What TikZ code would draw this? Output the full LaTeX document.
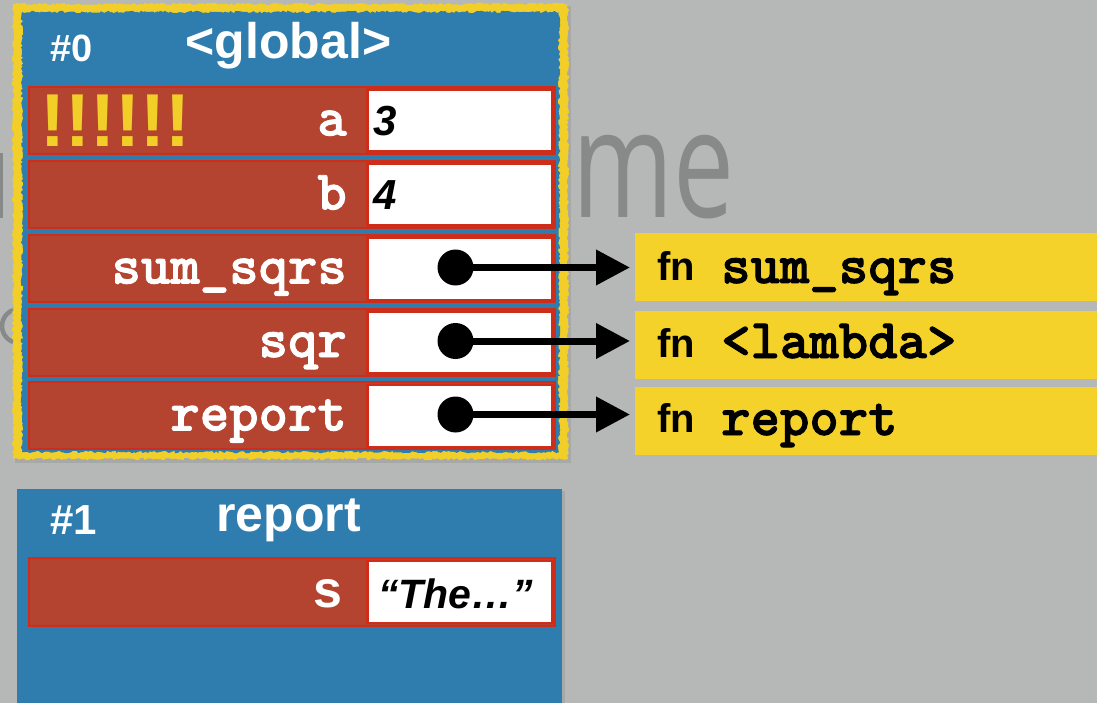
\documentclass[tikz,border=0pt]{standalone}
\usepackage{fontspec}
\setmainfont{Liberation Sans}
\newfontfamily\titlefont{Open Sans}
\newfontfamily\codefont[FakeBold=1.6]{lmmonolt10-bold.otf}
\usetikzlibrary{arrows.meta,decorations.pathmorphing}

\definecolor{slidebg}{RGB}{181,184,182}
\definecolor{titlegray}{RGB}{135,138,137}
\definecolor{frameblue}{RGB}{46,125,174}
\definecolor{frameyellow}{RGB}{242,206,40}
\definecolor{rowred}{RGB}{180,68,48}
\definecolor{rowline}{RGB}{205,45,25}
\definecolor{fnyellow}{RGB}{245,210,42}

\tikzset{
  rowbox/.style={draw=rowline, line width=2pt, fill=rowred, inner sep=0pt,
    minimum width=526pt, minimum height=67pt, anchor=north west},
  valbox/.style={draw=rowline, line width=2.5pt, fill=white, inner sep=0pt,
    minimum width=185pt, minimum height=62pt, anchor=north west},
  fnbox/.style={fill=fnyellow, inner sep=0pt, minimum width=480pt,
    minimum height=68pt, anchor=north west},
  varname/.style={inner sep=0pt, anchor=base east, text=white,
    font=\codefont\fontsize{56}{56}\selectfont},
  sansname/.style={inner sep=0pt, anchor=base east, text=white,
    font=\bfseries\fontsize{52}{52}\selectfont},
  value/.style={inner sep=0pt, anchor=base west, text=black,
    font=\bfseries\itshape\fontsize{42}{42}\selectfont},
  fnword/.style={inner sep=0pt, anchor=base west, text=black,
    font=\bfseries\fontsize{40}{40}\selectfont},
  fnname/.style={inner sep=0pt, anchor=base west, text=black,
    font=\codefont\fontsize{56}{56}\selectfont},
  framenum/.style={inner sep=0pt, anchor=base west, text=white,
    font=\bfseries\fontsize{38}{38}\selectfont},
  frametitle/.style={inner sep=0pt, anchor=base, text=white,
    font=\bfseries\fontsize{50}{50}\selectfont},
  pointer/.style={circle, fill=black, inner sep=0pt, minimum size=36pt},
  ref/.style={line width=7pt, -{Triangle[length=34pt,width=34pt]}, shorten >=5pt},
  rough/.style={decorate, decoration={random steps, segment length=2.2pt, amplitude=1.3pt}},
}

\begin{document}
\begin{tikzpicture}[x=1pt, y=-1pt]
\pgfmathsetseed{7}
\useasboundingbox (0,0) rectangle (1097,703);
\fill[slidebg] (0,0) rectangle (1097,703);

% slide title lying behind the frames
\node[inner sep=0pt, anchor=base west, text=titlegray, text depth=0pt,
      font=\titlefont\fontsize{151}{151}\selectfont] (heading) at (572,218)
      {\scalebox{0.72}[1]{me}};
\fill[titlegray] (0,153) rectangle (2.7,218);
\draw[titlegray, line width=4.5pt] (19,326) ++(110:17) arc[start angle=110, end angle=250, radius=17];

% ---- frame #0 : <global> ----
\fill[black, opacity=0.08] (15,6) rectangle (571,463);
\fill[frameyellow, rough] (13,4) rectangle (568,459);
\fill[frameblue, rough] (22,12) rectangle (559,452);
\node[framenum] (num0) at (50,62) {\#0};
\node[frametitle] (title0) at (288.5,59) {<global>};

\node[rowbox] (rowA) at (28,86) {};
\node[rowbox] (rowB) at (28,160) {};
\node[rowbox] (rowS) at (28,234) {};
\node[rowbox] (rowQ) at (28,307.5) {};
\node[rowbox] (rowR) at (28,381) {};

\node[valbox] (valA) at (366,88.5) {};
\node[valbox] (valB) at (366,162.5) {};
\node[valbox] (valS) at (366,236.5) {};
\node[valbox] (valQ) at (366,310) {};
\node[valbox] (valR) at (366,383.5) {};

\node[inner sep=0pt, anchor=base west, text=frameyellow,
      font=\bfseries\fontsize{75}{75}\selectfont] (bang) at (40,147) {!!!!!!};

\node[varname] (nameA) at (347,135.5) {a};
\node[varname] (nameB) at (347,209.5) {b};
\node[varname] (nameS) at (347,283.5) {sum\_sqrs};
\node[varname] (nameQ) at (347,357) {sqr};
\node[varname] (nameR) at (347,430.5) {report};

\node[value] (numA) at (373,135.5) {3};
\node[value] (numB) at (373,209.5) {4};

\node[pointer] (dotS) at (455.5,267.5) {};
\node[pointer] (dotQ) at (455.5,341) {};
\node[pointer] (dotR) at (455.5,414.5) {};

% ---- function objects ----
\node[fnbox] (fnS) at (635,233) {};
\node[fnbox] (fnQ) at (635,311) {};
\node[fnbox] (fnR) at (635,387) {};
\node[fnword] (fnSw) at (657,280) {fn};
\node[fnword] (fnQw) at (657,357) {fn};
\node[fnword] (fnRw) at (657,432) {fn};
\node[fnname] (fnSn) at (721,283) {sum\_sqrs};
\node[fnname] (fnQn) at (721,358) {<lambda>};
\node[fnname] (fnRn) at (721,435) {report};

\draw[ref] (dotS.center) -- (dotS.center -| fnS.west);
\draw[ref] (dotQ.center) -- (dotQ.center -| fnQ.west);
\draw[ref] (dotR.center) -- (dotR.center -| fnR.west);

% ---- frame #1 : report ----
\fill[black, opacity=0.08] (19,491) rectangle (565,710);
\fill[frameblue] (17,489) rectangle (562,710);
\node[framenum, font=\bfseries\fontsize{42}{42}\selectfont] (num1) at (50,534) {\#1};
\node[frametitle] (title1) at (288.5,531) {report};
\node[rowbox, minimum height=68pt] (rowT) at (28,557) {};
\node[valbox] (valT) at (366,559.5) {};
\node[sansname] (nameT) at (343,607) {s};
\node[value, font=\bfseries\itshape\fontsize{41}{41}\selectfont] (strT) at (378,608) {“The…”};
\end{tikzpicture}
\end{document}
